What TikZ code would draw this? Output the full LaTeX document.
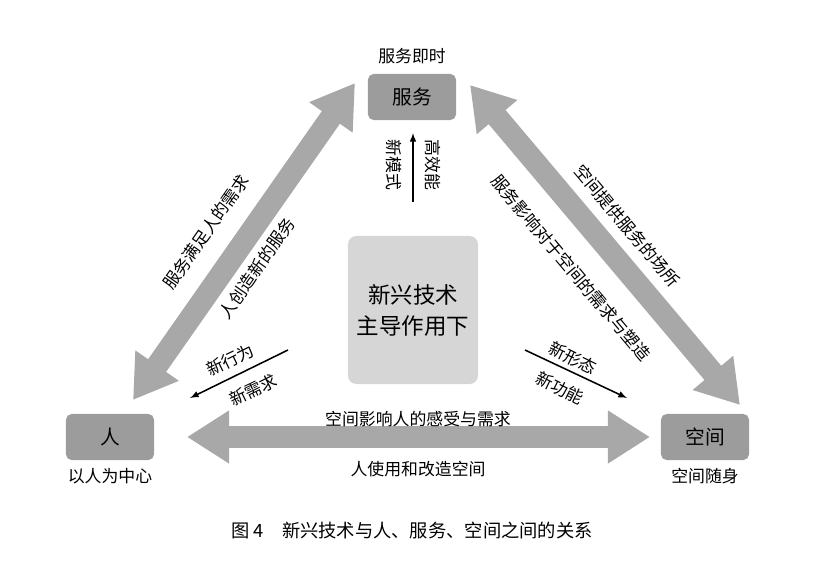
\documentclass[tikz,border=0pt]{standalone}
\usepackage{fontspec}
\setmainfont{Noto Sans CJK SC}
\usetikzlibrary{arrows.meta,positioning}
\definecolor{boxgray}{HTML}{9C9C9C}
\definecolor{fatgray}{HTML}{A8A8A8}
\definecolor{coregray}{HTML}{D6D6D6}
\tikzset{>=latex,
         box/.style={fill=boxgray, minimum width=2.2cm, minimum height=1.15cm, rounded corners=4pt, font=\fontsize{14}{16}\selectfont},
         core/.style={fill=coregray, minimum width=3.25cm, minimum height=3.7cm, rounded corners=6pt, align=center, font=\fontsize{16}{22}\selectfont},
         fat/.style={draw=fatgray, line width=0.55cm, {Triangle[width=1.25cm,length=1.05cm]}-{Triangle[width=1.25cm,length=1.05cm]}},
         thin/.style={draw, line width=1.1pt, ->},
         lab/.style={font=\fontsize{12}{14}\selectfont, inner sep=1pt}}
\begin{document}
\begin{tikzpicture}[x=0.025cm, y=-0.025cm]
  \useasboundingbox (0,0) rectangle (817,579);

  \node[box] at (412, 97) (fuwu)    {服务};
  \node[box] at (110,437) (ren)     {人};
  \node[box] at (705,437) (kongjian){空间};
  \node[core] at (413,310) (tech)   {新兴技术\\主导作用下};

  \node[lab, above=0.2cm of fuwu]    {服务即时};
  \node[lab, below=0.15cm of ren]    {以人为中心};
  \node[lab, below=0.15cm of kongjian]{空间随身};

  % fat arrows
  \coordinate (l1) at (133,400);
  \coordinate (l2) at (355, 83);
  \coordinate (r1) at (470, 85);
  \coordinate (r2) at (740,405);
  \coordinate (b1) at (187,437);
  \coordinate (b2) at (650,437);
  \draw[fat] (l1) -- (l2);
  \draw[fat] (r1) -- (r2);
  \draw[fat] (b1) -- (b2);

  \node[lab, rotate=55] at (206,232) {服务满足人的需求};
  \node[lab, rotate=55] at (257,268) {人创造新的服务};
  \node[lab, rotate=-50] at (627,226) {空间提供服务的场所};
  \node[lab, rotate=-50] at (571,268) {服务影响对于空间的需求与塑造};
  \node[lab] at (418,419) {空间影响人的感受与需求};
  \node[lab] at (418,469) {人使用和改造空间};

  % thin arrows
  \coordinate (u1) at (413,202);
  \coordinate (u2) at (413,133);
  \coordinate (a1) at (288,350);
  \coordinate (a2) at (190,398);
  \coordinate (c1) at (525,350);
  \coordinate (c2) at (627,398);
  \draw[thin] (u1) -- (u2);
  \draw[thin] (a1) -- (a2);
  \draw[thin] (c1) -- (c2);

  \node[lab, rotate=-90] at (433,165) {高效能};
  \node[lab, rotate=-90] at (394,165) {新模式};
  \node[lab, rotate=26] at (230,360) {新行为};
  \node[lab, rotate=26] at (253,390) {新需求};
  \node[lab, rotate=-26] at (573,358) {新形态};
  \node[lab, rotate=-26] at (560,388) {新功能};

  \node[lab, font=\fontsize{13}{15}\selectfont] at (412,531) (caption) {图 4\quad 新兴技术与人、服务、空间之间的关系};
\end{tikzpicture}
\end{document}
